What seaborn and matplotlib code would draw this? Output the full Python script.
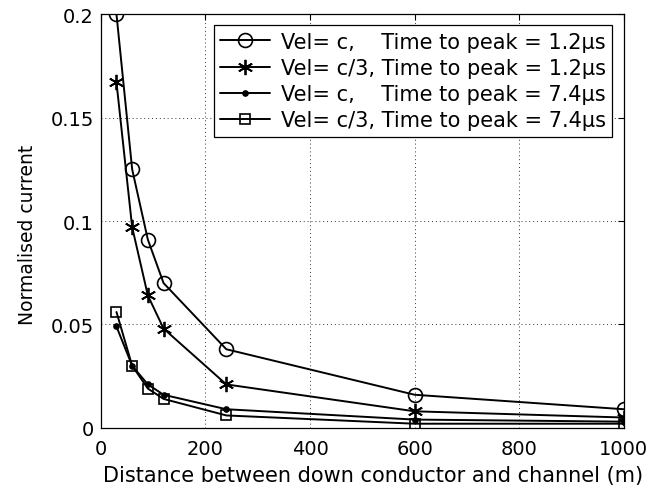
import matplotlib
matplotlib.use("Agg")
import matplotlib.pyplot as plt
import seaborn as sns
import pandas as pd

distance = [30, 60, 90, 120, 240, 600, 1000]
vel_c_1_2 = [0.200, 0.125, 0.091, 0.070, 0.038, 0.016, 0.009]
vel_c3_1_2 = [0.167, 0.097, 0.064, 0.048, 0.021, 0.008, 0.005]
vel_c_7_4 = [0.049, 0.030, 0.021, 0.016, 0.009, 0.004, 0.003]
vel_c3_7_4 = [0.056, 0.030, 0.019, 0.014, 0.006, 0.002, 0.002]
labels = [
    "Vel= c,    Time to peak = 1.2\u03bcs",
    "Vel= c/3, Time to peak = 1.2\u03bcs",
    "Vel= c,    Time to peak = 7.4\u03bcs",
    "Vel= c/3, Time to peak = 7.4\u03bcs",
]
x_ticks = [0, 200, 400, 600, 800, 1000]
y_ticks = [0, 0.05, 0.1, 0.15, 0.2]
y_ticklabels = ["0", "0.05", "0.1", "0.15", "0.2"]

sns.set_style("white")
plt.rcParams["font.family"] = ["DejaVu Sans"]
plt.rcParams.update({"text.color": "black", "axes.labelcolor": "black",
                     "xtick.color": "black", "ytick.color": "black",
                     "xtick.labelcolor": "black", "ytick.labelcolor": "black"})

fig = plt.figure(figsize=(6.63, 4.89), dpi=100)
ax = fig.add_axes([0.152, 0.123, 0.789, 0.846])

series = [vel_c_1_2, vel_c3_1_2, vel_c_7_4, vel_c3_7_4]
styles = [
    dict(marker="o", markersize=10, markerfacecolor="none", markeredgecolor="black", markeredgewidth=1.2),
    dict(marker=(6, 2, 0), markersize=11, markeredgecolor="black", markeredgewidth=1.3),
    dict(marker="o", markersize=4, markerfacecolor="black", markeredgecolor="black"),
    dict(marker="s", markersize=7.5, markerfacecolor="none", markeredgecolor="black", markeredgewidth=1.2),
]
for vals, lab, st in zip(series, labels, styles):
    df = pd.DataFrame({"x": distance, "y": vals})
    sns.lineplot(data=df, x="x", y="y", ax=ax, color="black", linewidth=1.4,
                 label=lab, **st)

ax.set_xlim(0, 1000)
ax.set_ylim(0, 0.2)
ax.set_xticks(x_ticks)
ax.set_yticks(y_ticks)
ax.set_yticklabels(y_ticklabels)
ax.tick_params(direction="in", top=True, right=True, labelsize=14, length=4,
               color="black", labelcolor="black")
ax.tick_params(axis="x", pad=8)
ax.tick_params(axis="y", pad=5)
ax.grid(True, linestyle=(0, (1, 3)), color="black", linewidth=0.7, alpha=0.8)
for s in ax.spines.values():
    s.set_color("black")
    s.set_linewidth(0.9)
ax.set_xlabel("Distance between down conductor and channel (m)", fontsize=15,
              va="top", color="black")
ax.set_ylabel("Normalised current", fontsize=13.5, va="center", color="black")
ax.xaxis.set_label_coords(0.521, -0.09)
ax.yaxis.set_label_coords(-0.14, 0.47)

leg = ax.legend(loc="upper right", bbox_to_anchor=(0.977, 0.973), fontsize=15,
                frameon=True, fancybox=False, edgecolor="black", framealpha=1,
                handlelength=2.4, borderpad=0.3, labelspacing=0.3, handletextpad=0.5,
                borderaxespad=0)
leg.get_frame().set_linewidth(0.9)
for t in leg.get_texts():
    t.set_color("black")

fig.savefig("out.png", dpi=100)
